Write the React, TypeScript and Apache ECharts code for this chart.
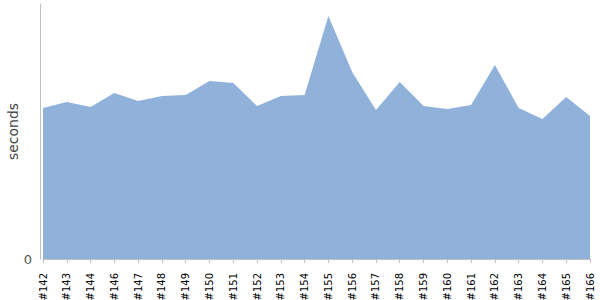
import React, { useEffect, useRef } from "react";
import * as echarts from "echarts";

const builds = ["#142","#143","#144","#146","#147","#148","#149","#150","#151","#152","#153","#154","#155","#156","#157","#158","#159","#160","#161","#162","#163","#164","#165","#166"];
const seconds = [151,157,152,166,158,163,164,178,176,153,163,164,243,187,149,177,153,150,154,194,151,140,162,143];
const yMin = 0;
const yMax = 255;

export default function App() {
  const ref = useRef<HTMLDivElement>(null);
  useEffect(() => {
    const chart = echarts.init(ref.current!, null, { renderer: "svg" });
    chart.setOption({
      animation: false,
      grid: { left: 43, right: 10, top: 4, bottom: 41, containLabel: false, outerBoundsMode: "none" },
      xAxis: {
        type: "category",
        data: builds,
        boundaryGap: false,
        offset: 4,
        axisLine: { lineStyle: { color: "#c0c0c0" } },
        axisTick: { alignWithLabel: true, length: 4, lineStyle: { color: "#c0c0c0" } },
        axisLabel: { rotate: 90, interval: 0, fontSize: 10, color: "#000", fontFamily: "DejaVu Sans", margin: 10 },
      },
      yAxis: {
        type: "value",
        min: yMin,
        max: yMax,
        interval: yMax,
        offset: 3,
        name: "seconds",
        nameLocation: "middle",
        nameGap: 20,
        nameMoveOverlap: false,
        nameTextStyle: { fontSize: 14, color: "#444", fontFamily: "DejaVu Sans" },
        axisLine: { show: true, lineStyle: { color: "#c0c0c0" } },
        axisTick: { show: false },
        splitLine: { show: false },
        axisLabel: {
          color: "#555",
          fontSize: 13,
          fontFamily: "DejaVu Sans",
          margin: 8,
          formatter: (v: number) => (v === 0 ? "0" : ""),
        },
      },
      series: [
        {
          type: "line",
          data: seconds,
          symbol: "none",
          lineStyle: { width: 0 },
          areaStyle: { color: "#8fb1da", opacity: 1 },
        },
      ],
    });
    return () => chart.dispose();
  }, []);
  return <div ref={ref} style={{ width: 600, height: 300, position: "absolute", left: 0, top: 0 }} />;
}
